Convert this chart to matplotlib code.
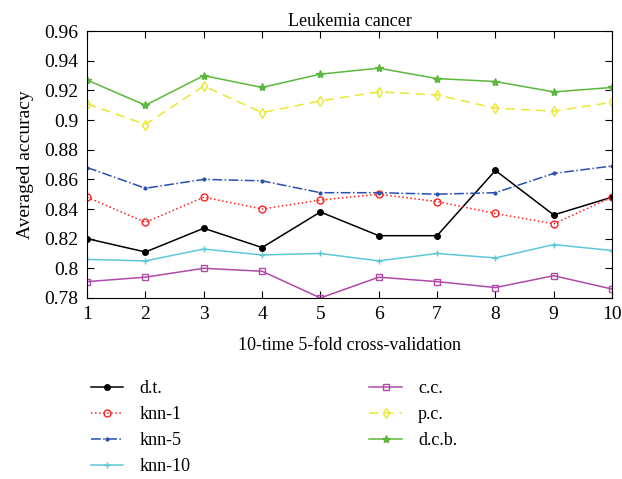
import matplotlib
matplotlib.use("Agg")
import matplotlib.pyplot as plt

plt.rcParams['font.family'] = ['Liberation Serif', 'DejaVu Serif']

runs = [1, 2, 3, 4, 5, 6, 7, 8, 9, 10]
dt = [0.820, 0.811, 0.827, 0.814, 0.838, 0.822, 0.822, 0.866, 0.836, 0.848]
knn1 = [0.848, 0.831, 0.848, 0.840, 0.846, 0.850, 0.845, 0.837, 0.830, 0.848]
knn5 = [0.868, 0.854, 0.860, 0.859, 0.851, 0.851, 0.850, 0.851, 0.864, 0.869]
knn10 = [0.806, 0.805, 0.813, 0.809, 0.810, 0.805, 0.810, 0.807, 0.816, 0.812]
cc = [0.791, 0.794, 0.800, 0.798, 0.780, 0.794, 0.791, 0.787, 0.795, 0.786]
pc = [0.911, 0.897, 0.923, 0.905, 0.913, 0.919, 0.917, 0.908, 0.906, 0.912]
dcb = [0.927, 0.910, 0.930, 0.922, 0.931, 0.935, 0.928, 0.926, 0.919, 0.922]

fig = plt.figure(figsize=(6.22, 4.79), dpi=100)
ax = fig.add_axes([0.14, 0.378, 0.844, 0.557])

ax.plot(runs, dt, color='black', marker='o', markersize=4, lw=1.1, label='d.t.')
ax.plot(runs, knn1, color='#ff2020', ls=':', marker='o', markersize=5, mfc='none', lw=1.1, label='knn-1')
ax.plot(runs, knn5, color='#2a4fb0', ls='-.', marker='.', markersize=4, lw=1.1, label='knn-5')
ax.plot(runs, knn10, color='#5cc8d8', marker='+', markersize=5, lw=1.1, label='knn-10')
ax.plot(runs, cc, color='#b04aa8', marker='s', markersize=4, mfc='none', lw=1.1, label='c.c.')
ax.plot(runs, pc, color='#e8e830', ls='--', dashes=(6, 4), marker='d', markersize=5, mfc='none', lw=1.1, label='p.c.')
ax.plot(runs, dcb, color='#5cb83c', marker='*', markersize=6, lw=1.1, label='d.c.b.')

ax.set_xlim(1, 10)
ax.set_ylim(0.78, 0.96)
ax.set_xticks(runs)
ax.set_yticks([0.78, 0.80, 0.82, 0.84, 0.86, 0.88, 0.90, 0.92, 0.94, 0.96])
ax.set_yticklabels(['0.78', '0.8', '0.82', '0.84', '0.86', '0.88', '0.9', '0.92', '0.94', '0.96'])
ax.tick_params(direction='in', top=True, right=True, labelsize=14, length=5, pad=6)
ax.set_title('Leukemia cancer', fontsize=13, pad=4)
ax.set_xlabel('10-time 5-fold cross-validation', fontsize=13, labelpad=10)
ax.set_ylabel('Averaged accuracy', fontsize=14, labelpad=8)

fig.legend(loc='upper left', bbox_to_anchor=(0.12, 0.24), ncol=2, frameon=False,
           fontsize=13, handlelength=1.8, handletextpad=0.9, columnspacing=9.9,
           labelspacing=0.5)

fig.savefig('out.png', dpi=100)
